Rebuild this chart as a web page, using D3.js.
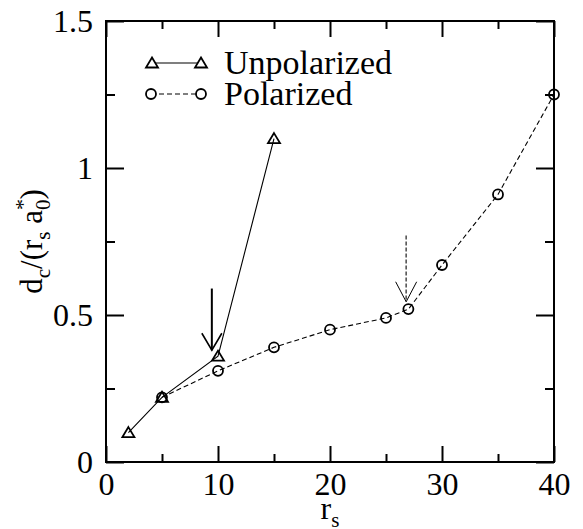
<!DOCTYPE html>
<html>
<head>
<meta charset="utf-8">
<script src="https://cdn.jsdelivr.net/npm/d3@7/dist/d3.min.js"></script>
</head>
<body style="margin:0;background:#fff">
<svg id="chart" width="583" height="529" style="display:block"></svg>
<script>
// Critical distance d_c/(r_s a_0*) against r_s
const unpolRs = [2, 5, 10, 15];
const unpolDc = [0.10, 0.22, 0.36, 1.10];

const polRs = [5, 10, 15, 20, 25, 27, 30, 35, 40];
const polDc = [0.22, 0.31, 0.39, 0.45, 0.49, 0.52, 0.67, 0.91, 1.25];

// Transition markers (arrow at r_s, from top value down to tip value)
const arrowRs  = [9.45, 26.8];
const arrowTop = [0.59, 0.77];
const arrowTip = [0.38, 0.545];

const seriesNames = ["Unpolarized", "Polarized"];

const xMajor = [0, 10, 20, 30, 40];
const xMinor = [5, 15, 25, 35];
const yMajor = [0, 0.5, 1, 1.5];
const yMinor = [0.25, 0.75, 1.25];

const serif = '"Liberation Serif", "Tinos", "Times New Roman", serif';
const svg = d3.select("#chart");
const pLeft = 106, pRight = 554, pTop = 21, pBottom = 462;

const x = d3.scaleLinear().domain([0, 40]).range([pLeft, pRight]);
const y = d3.scaleLinear().domain([0, 1.5]).range([pBottom, pTop]);

const fontSize = 32;

function styleAxis(g) {
  g.attr("font-family", null).attr("font-size", null);
  g.select(".domain").remove();
  g.selectAll(".tick line").attr("stroke", "#000").attr("stroke-width", 2);
  g.selectAll("text").style("font-size", fontSize + "px").attr("fill", "#000");
}

// bottom axis with labels
svg.append("g").attr("transform", `translate(0,${pBottom})`)
  .call(d3.axisBottom(x).tickValues(xMajor).tickSize(-16).tickPadding(10).tickFormat(d => String(d)))
  .call(styleAxis);
svg.append("g").attr("transform", `translate(0,${pBottom})`)
  .call(d3.axisBottom(x).tickValues(xMinor).tickSize(-8).tickFormat(""))
  .call(styleAxis);
// top axis, ticks only
svg.append("g").attr("transform", `translate(0,${pTop})`)
  .call(d3.axisTop(x).tickValues(xMajor).tickSize(-16).tickFormat(""))
  .call(styleAxis);
svg.append("g").attr("transform", `translate(0,${pTop})`)
  .call(d3.axisTop(x).tickValues(xMinor).tickSize(-8).tickFormat(""))
  .call(styleAxis);
// left axis with labels
svg.append("g").attr("transform", `translate(${pLeft},0)`)
  .call(d3.axisLeft(y).tickValues(yMajor).tickSize(-18).tickPadding(13).tickFormat(d => String(d)))
  .call(styleAxis);
svg.append("g").attr("transform", `translate(${pLeft},0)`)
  .call(d3.axisLeft(y).tickValues(yMinor).tickSize(-9).tickFormat(""))
  .call(styleAxis);
// right axis, ticks only
svg.append("g").attr("transform", `translate(${pRight},0)`)
  .call(d3.axisRight(y).tickValues(yMajor).tickSize(-18).tickFormat(""))
  .call(styleAxis);
svg.append("g").attr("transform", `translate(${pRight},0)`)
  .call(d3.axisRight(y).tickValues(yMinor).tickSize(-9).tickFormat(""))
  .call(styleAxis);

// frame
svg.append("rect")
  .attr("x", pLeft).attr("y", pTop)
  .attr("width", pRight - pLeft).attr("height", pBottom - pTop)
  .attr("fill", "none").attr("stroke", "#000").attr("stroke-width", 2);

const line = d3.line().x(d => x(d[0])).y(d => y(d[1]));
const unpol = unpolRs.map((r, i) => [r, unpolDc[i]]);
const pol = polRs.map((r, i) => [r, polDc[i]]);

const triPath = "M0,-5.5L6,4.5L-6,4.5Z";

// polarized series: dashed line with open circles
svg.append("path").datum(pol).attr("d", line)
  .attr("fill", "none").attr("stroke", "#000").attr("stroke-width", 1.1)
  .attr("stroke-dasharray", "5,3");
svg.append("g").selectAll("circle").data(pol).join("circle")
  .attr("cx", d => x(d[0])).attr("cy", d => y(d[1])).attr("r", 5)
  .attr("fill", "none").attr("stroke", "#000").attr("stroke-width", 1.8);

// unpolarized series: solid line with open triangles
svg.append("path").datum(unpol).attr("d", line)
  .attr("fill", "none").attr("stroke", "#000").attr("stroke-width", 1.1);
svg.append("g").selectAll("path").data(unpol).join("path")
  .attr("transform", d => `translate(${x(d[0])},${y(d[1])})`)
  .attr("d", triPath)
  .attr("fill", "none").attr("stroke", "#000").attr("stroke-width", 1.8);

// arrows
arrowRs.forEach((r, i) => {
  const ax = x(r), y0 = y(arrowTop[i]), y1 = y(arrowTip[i]);
  const dashed = i === 1;
  const g = svg.append("g");
  g.append("line").attr("x1", ax).attr("x2", ax).attr("y1", y0).attr("y2", y1)
    .attr("stroke", dashed ? "#555" : "#000")
    .attr("stroke-width", dashed ? 1.6 : 2)
    .attr("stroke-dasharray", dashed ? "4,2" : null);
  const hw = dashed ? 10.5 : 10, hh = dashed ? 20 : 17;
  g.append("path")
    .attr("d", `M${ax - hw},${y1 - hh}L${ax},${y1}L${ax + hw},${y1 - hh}`)
    .attr("fill", "none").attr("stroke", "#000").attr("stroke-width", dashed ? 1 : 1.6);
});

// legend
const legY = [63, 94];
const legText = [74, 105];
const lg = svg.append("g");
lg.append("line").attr("x1", 152).attr("x2", 201).attr("y1", legY[0]).attr("y2", legY[0])
  .attr("stroke", "#000").attr("stroke-width", 1.1);
[152, 201].forEach(lx => lg.append("path").attr("d", triPath)
  .attr("transform", `translate(${lx},${legY[0]})`)
  .attr("fill", "#fff").attr("stroke", "#000").attr("stroke-width", 1.8));
lg.append("line").attr("x1", 151).attr("x2", 201).attr("y1", legY[1]).attr("y2", legY[1])
  .attr("stroke", "#000").attr("stroke-width", 1.1).attr("stroke-dasharray", "5,3");
[151, 201].forEach(lx => lg.append("circle").attr("cx", lx).attr("cy", legY[1]).attr("r", 5)
  .attr("fill", "#fff").attr("stroke", "#000").attr("stroke-width", 1.8));
seriesNames.forEach((n, i) => lg.append("text")
  .attr("x", 224).attr("y", legText[i]).style("font-size", "34px").text(n));

// x axis title: r_s
const xt = svg.append("text").attr("x", (pLeft + pRight) / 2).attr("y", 519)
  .attr("text-anchor", "middle").style("font-size", fontSize + "px");
xt.append("tspan").text("r");
xt.append("tspan").style("font-size", "21px").attr("dy", 8).text("s");

// y axis title: d_c/(r_s a_0^*)
const yt = svg.append("text")
  .attr("transform", `translate(42,${(pTop + pBottom) / 2}) rotate(-90)`)
  .attr("text-anchor", "middle").style("font-size", "31px");
yt.append("tspan").text("d");
yt.append("tspan").style("font-size", "21px").attr("dy", 8).text("c");
yt.append("tspan").attr("dy", -8).text("/(r");
yt.append("tspan").style("font-size", "21px").attr("dy", 8).text("s");
yt.append("tspan").attr("dy", -8).text(" a");
const star = yt.append("tspan").style("font-size", "22px").attr("dy", -12).text("*");
const sub0 = yt.append("tspan").style("font-size", "21px").attr("dy", 20).text("0");
yt.append("tspan").attr("dy", -8).text(")");

// serif face on every label
svg.selectAll("text, tspan").style("font-family", serif);
sub0.attr("dx", -star.node().getComputedTextLength());
</script>
</body>
</html>
